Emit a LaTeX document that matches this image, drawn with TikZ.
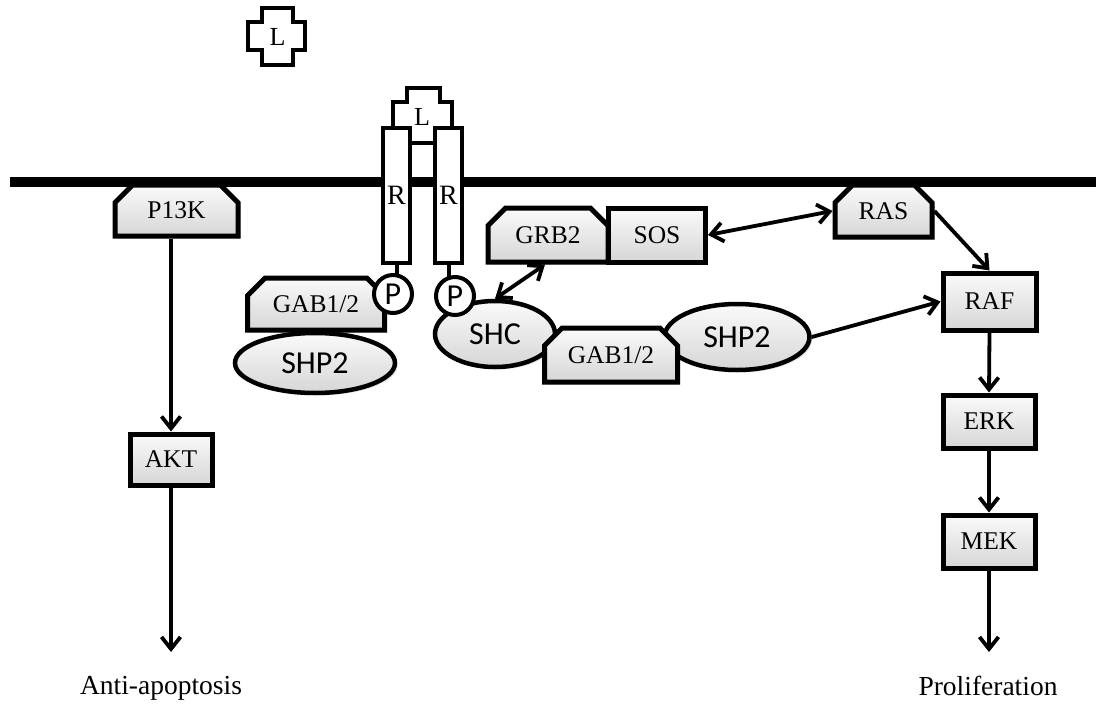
\documentclass[tikz,border=0pt]{standalone}
\usepackage{fontspec}
\setmainfont{Liberation Serif}
\newfontfamily\calib{Carlito}
\usetikzlibrary{arrows.meta,shapes.geometric,shapes.misc,shadows,calc}
\begin{document}
\begin{tikzpicture}[x=1pt,y=-1pt,
  gbox/.style={draw, line width=5pt, top color=gray!4, bottom color=gray!32, inner sep=0pt,
    font=\fontsize{25.5}{25.5}\selectfont,
    drop shadow={shadow xshift=2.5pt,shadow yshift=-2.5pt,opacity=0.25}},
  tagbox/.style={gbox, chamfered rectangle, chamfered rectangle corners={north west,north east},
    chamfered rectangle xsep=9pt, chamfered rectangle ysep=9pt},
  rbox/.style={gbox, rectangle},
  oval/.style={gbox, line width=4.5pt, ellipse, font=\calib\fontsize{32}{32}\selectfont},
  wrect/.style={draw, line width=4.8pt, fill=white, rectangle, inner sep=0pt, font=\fontsize{28}{28}\selectfont},
  pcirc/.style={draw, line width=4pt, fill=white, circle, inner sep=0pt, minimum size=38pt, font=\calib\fontsize{32}{32}\selectfont},
  lig/.style={draw, line width=4.8pt, fill=white, line join=miter},
  stem/.style={line width=4pt},
  arr/.style={line width=3.8pt, -{Straight Barb[length=12pt,width=19pt,line width=3.8pt]}},
  darr/.style={line width=3.8pt, {Straight Barb[length=12pt,width=19pt,line width=3.8pt]}-{Straight Barb[length=12pt,width=19pt,line width=3.8pt]}},
  lab/.style={font=\fontsize{27.5}{27.5}\selectfont}
]
\useasboundingbox (0,0) rectangle (1096,707);
% membrane
\draw[line width=10pt] (10,182) -- (1096,182);
% free ligand
\draw[lig] (262,8) -- (293,8) -- (293,22) -- (305,22) -- (305,50) -- (293,50) -- (293,65) -- (262,65) -- (262,50) -- (248,50) -- (248,22) -- (262,22) -- cycle;
\node[font=\fontsize{26}{26}\selectfont] (L1) at (277.5,37) {L};
% bound ligand
\draw[lig] (407,88) -- (440,88) -- (440,102) -- (452,102) -- (452,128) -- (435,128) -- (435,143) -- (408,143) -- (408,128) -- (393,128) -- (393,102) -- (407,102) -- cycle;
\node[font=\fontsize{26}{26}\selectfont] (L2) at (422,117) {L};
% receptors
\node[wrect, minimum width=27pt, minimum height=135pt] (R1) at (396.5,195.5) {R};
\node[wrect, minimum width=27pt, minimum height=135pt] (R2) at (448.5,195.5) {R};
% membrane proteins
\node[tagbox, minimum width=123pt, minimum height=51pt] (P13K) at (176.5,210.5) {P13K};
\node[tagbox, minimum width=97pt, minimum height=52pt] (RAS) at (883.5,211) {RAS};
% left complex
\node[tagbox, minimum width=137pt, minimum height=52pt] (GABL) at (316,304) {GAB1/2};
\node[oval, minimum width=160pt, minimum height=60pt] (SHP2L) at (315,363) {SHP2};
% middle complex
\node[oval, minimum width=120pt, minimum height=66pt] (SHC) at (495,334) {SHC};
\node[oval, minimum width=145pt, minimum height=66pt] (SHP2R) at (737,337) {SHP2};
\node[tagbox, minimum width=133pt, minimum height=54pt] (GABM) at (611,355) {GAB1/2};
\node[tagbox, minimum width=120pt, minimum height=54pt] (GRB2) at (548,235) {GRB2};
\node[rbox, minimum width=97pt, minimum height=54pt] (SOS) at (657,235) {SOS};
% phosphates
\coordinate (PLc) at (393,294);
\coordinate (PRc) at (455,296);
\draw[stem] (R1.south) -- (R1.south |- 0,276);
\draw[stem] (R2.south) -- (R2.south |- 0,278);
\node[pcirc] (PL) at (PLc) {P};
\node[pcirc] (PR) at (PRc) {P};
% cascade
\node[rbox, minimum width=82pt, minimum height=51pt] (AKT) at (171,459.5) {AKT};
\node[rbox, minimum width=93pt, minimum height=57pt] (RAF) at (989.5,301.5) {RAF};
\node[rbox, minimum width=92pt, minimum height=53pt] (ERK) at (989,421.5) {ERK};
\node[rbox, minimum width=92pt, minimum height=53pt] (MEK) at (989,541.5) {MEK};
\coordinate (endL) at (171,652);
\coordinate (endR) at (989,652);
% labels
\node[lab] (anti) at (161,688) {Anti-apoptosis};
\node[lab] (prolif) at (988,686) {Proliferation};
% arrows
\draw[arr] (AKT.north |- P13K.south) -- (AKT.north);
\draw[arr] (AKT.south) -- (endL);
\draw[darr] (SOS.east) -- (RAS.west);
\draw[darr] ($(GRB2.south)+(-3,0)$) -- (SHC.north);
\draw[arr] (SHP2R.east) -- (RAF.west);
\draw[arr] (RAS.east) -- (RAF.north);
\draw[arr] (RAF.south) -- (ERK.north);
\draw[arr] (ERK.south) -- (MEK.north);
\draw[arr] (MEK.south) -- (endR);
\end{tikzpicture}
\end{document}
